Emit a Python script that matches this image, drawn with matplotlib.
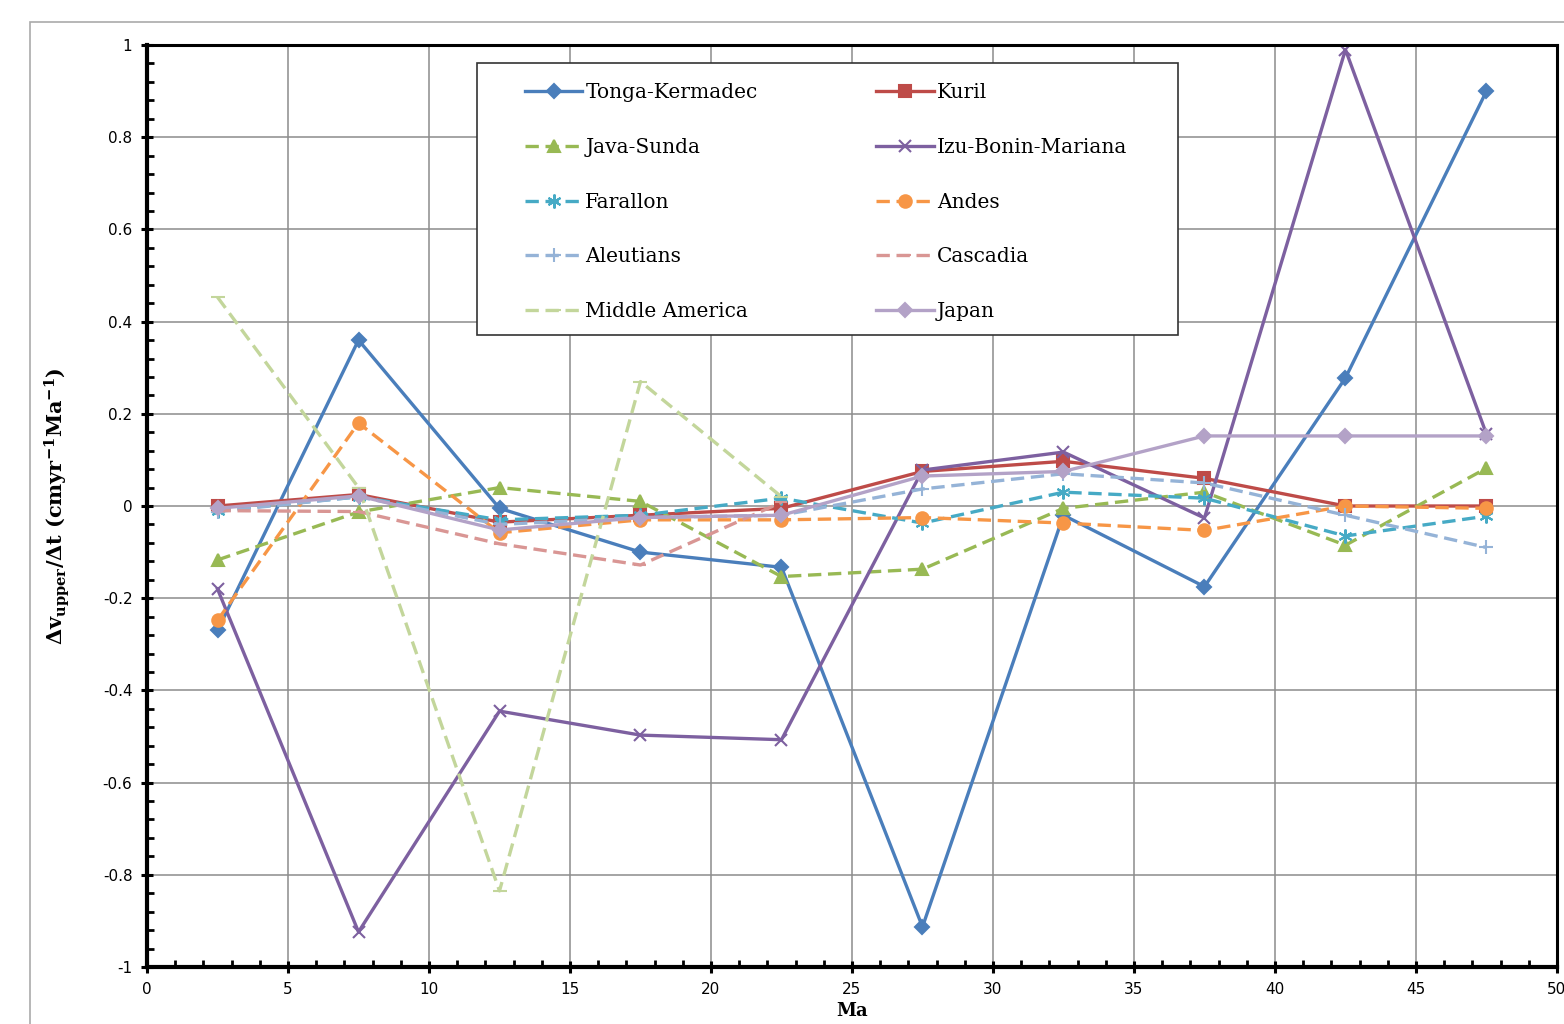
import matplotlib
matplotlib.use('Agg')
import matplotlib.pyplot as plt
from matplotlib.patches import Rectangle
from matplotlib.ticker import MultipleLocator

plt.rcParams['mathtext.fontset'] = 'dejavuserif'

# ── data (Ma bin centres, Δv/Δt values) ──
ma = [2.5, 7.5, 12.5, 17.5, 22.5, 27.5, 32.5, 37.5, 42.5, 47.5]
ma_short = [2.5, 7.5, 12.5, 17.5, 22.5]

tonga = [-0.27, 0.36, -0.005, -0.10, -0.133, -0.913, -0.02, -0.175, 0.278, 0.90]
kuril = [0.0, 0.025, -0.035, -0.02, -0.005, 0.075, 0.097, 0.06, 0.0, 0.0]
java = [-0.117, -0.013, 0.04, 0.01, -0.153, -0.137, -0.005, 0.03, -0.085, 0.082]
izu = [-0.18, -0.924, -0.445, -0.497, -0.507, 0.078, 0.117, -0.026, 0.99, 0.156]
farallon = [-0.01, 0.02, -0.03, -0.02, 0.017, -0.037, 0.03, 0.017, -0.065, -0.022]
andes = [-0.248, 0.18, -0.058, -0.03, -0.03, -0.025, -0.037, -0.053, 0.0, -0.005]
aleutians = [-0.012, 0.02, -0.04, -0.025, -0.02, 0.037, 0.07, 0.05, -0.02, -0.09]
cascadia = [-0.01, -0.012, -0.082, -0.128, 0.008]
mid_america = [0.453, 0.04, -0.835, 0.27, 0.02]
japan = [-0.005, 0.022, -0.052, -0.025, -0.02, 0.065, 0.075, 0.152, 0.152, 0.152]

# (label, x, y, color, linestyle, marker, markersize)
SERIES = [
    ("Tonga-Kermadec", ma, tonga, "#4a7ebb", "-", "D", 7),
    ("Kuril", ma, kuril, "#be4b48", "-", "s", 9),
    ("Java-Sunda", ma, java, "#98b954", (0, (4, 2)), "^", 9),
    ("Izu-Bonin-Mariana", ma, izu, "#7d60a0", "-", "x", 9),
    ("Farallon", ma, farallon, "#46aac5", (0, (4, 2)), (6, 2, 0), 10),
    ("Andes", ma, andes, "#f79646", (0, (4, 2)), "o", 9),
    ("Aleutians", ma, aleutians, "#95b3d7", (0, (4, 2)), "+", 10),
    ("Cascadia", ma_short, cascadia, "#d99694", (0, (4, 2)), "_", 8),
    ("Middle America", ma_short, mid_america, "#c3d69b", (0, (4, 2)), "_", 10),
    ("Japan", ma, japan, "#b3a2c7", "-", "D", 7),
]

fig = plt.figure(figsize=(15.64, 10.24), dpi=100)
ax = fig.add_axes([0.094, 0.0557, 0.9015, 0.9003])

# outer chart-area border
fig.add_artist(Rectangle((0.019, -0.1), 1.2, 0.1 + 0.9785, transform=fig.transFigure,
                         fill=False, edgecolor='#aaaaaa', linewidth=1.2))

handles = []
for label, x, y, c, ls, mk, ms in SERIES:
    h, = ax.plot(x, y, color=c, linestyle=ls, linewidth=2.4, marker=mk, markersize=ms,
                 markeredgecolor=c, markerfacecolor=c, markeredgewidth=1.5, label=label)
    handles.append(h)

ax.set_xlim(0, 50)
ax.set_ylim(-1, 1)
ax.xaxis.set_major_locator(MultipleLocator(5))
ax.xaxis.set_minor_locator(MultipleLocator(1))
ax.yaxis.set_minor_locator(MultipleLocator(0.04))
ax.set_yticks([-1, -0.8, -0.6, -0.4, -0.2, 0, 0.2, 0.4, 0.6, 0.8, 1])
ax.set_yticklabels(['-1', '-0.8', '-0.6', '-0.4', '-0.2', '0', '0.2', '0.4', '0.6', '0.8', '1'])

ax.grid(True, which='major', color='#8c8c8c', linewidth=1.1)
ax.set_axisbelow(True)
ax.tick_params(which='major', direction='inout', length=9, width=2.2, labelsize=11,
               top=False, right=False, pad=6)
ax.tick_params(which='minor', direction='in', length=5, width=2, top=False, right=False)
for side in ['left', 'bottom']:
    ax.spines[side].set_linewidth(3)
for side in ['top', 'right']:
    ax.spines[side].set_linewidth(2.2)

ax.set_ylabel(r'$\mathbf{\Delta v_{upper}/\Delta t\ (cmyr^{-1}Ma^{-1})}$', fontsize=15, labelpad=22)
ax.set_xlabel('Ma', fontsize=13, fontweight='bold', family='DejaVu Serif', labelpad=4)

# legend box drawn separately (wide side padding like the source chart)
ax.add_patch(Rectangle((0.234, 0.6855), 0.497, 0.295, transform=ax.transAxes,
                       facecolor='white', edgecolor='#333333', linewidth=1.2, zorder=4.9))

# legend filled row by row, as in the source chart
order = handles[0::2] + handles[1::2]
leg = ax.legend(handles=order, ncol=2, loc='upper left', bbox_to_anchor=(0.268, 0.959),
                prop={'family': 'DejaVu Serif', 'size': 14.5},
                frameon=False, handlelength=2.85, columnspacing=5.9, labelspacing=1.78,
                borderpad=0, handletextpad=0.15, borderaxespad=0)

plt.savefig('out.png', dpi=100, facecolor='white')
plt.close()
